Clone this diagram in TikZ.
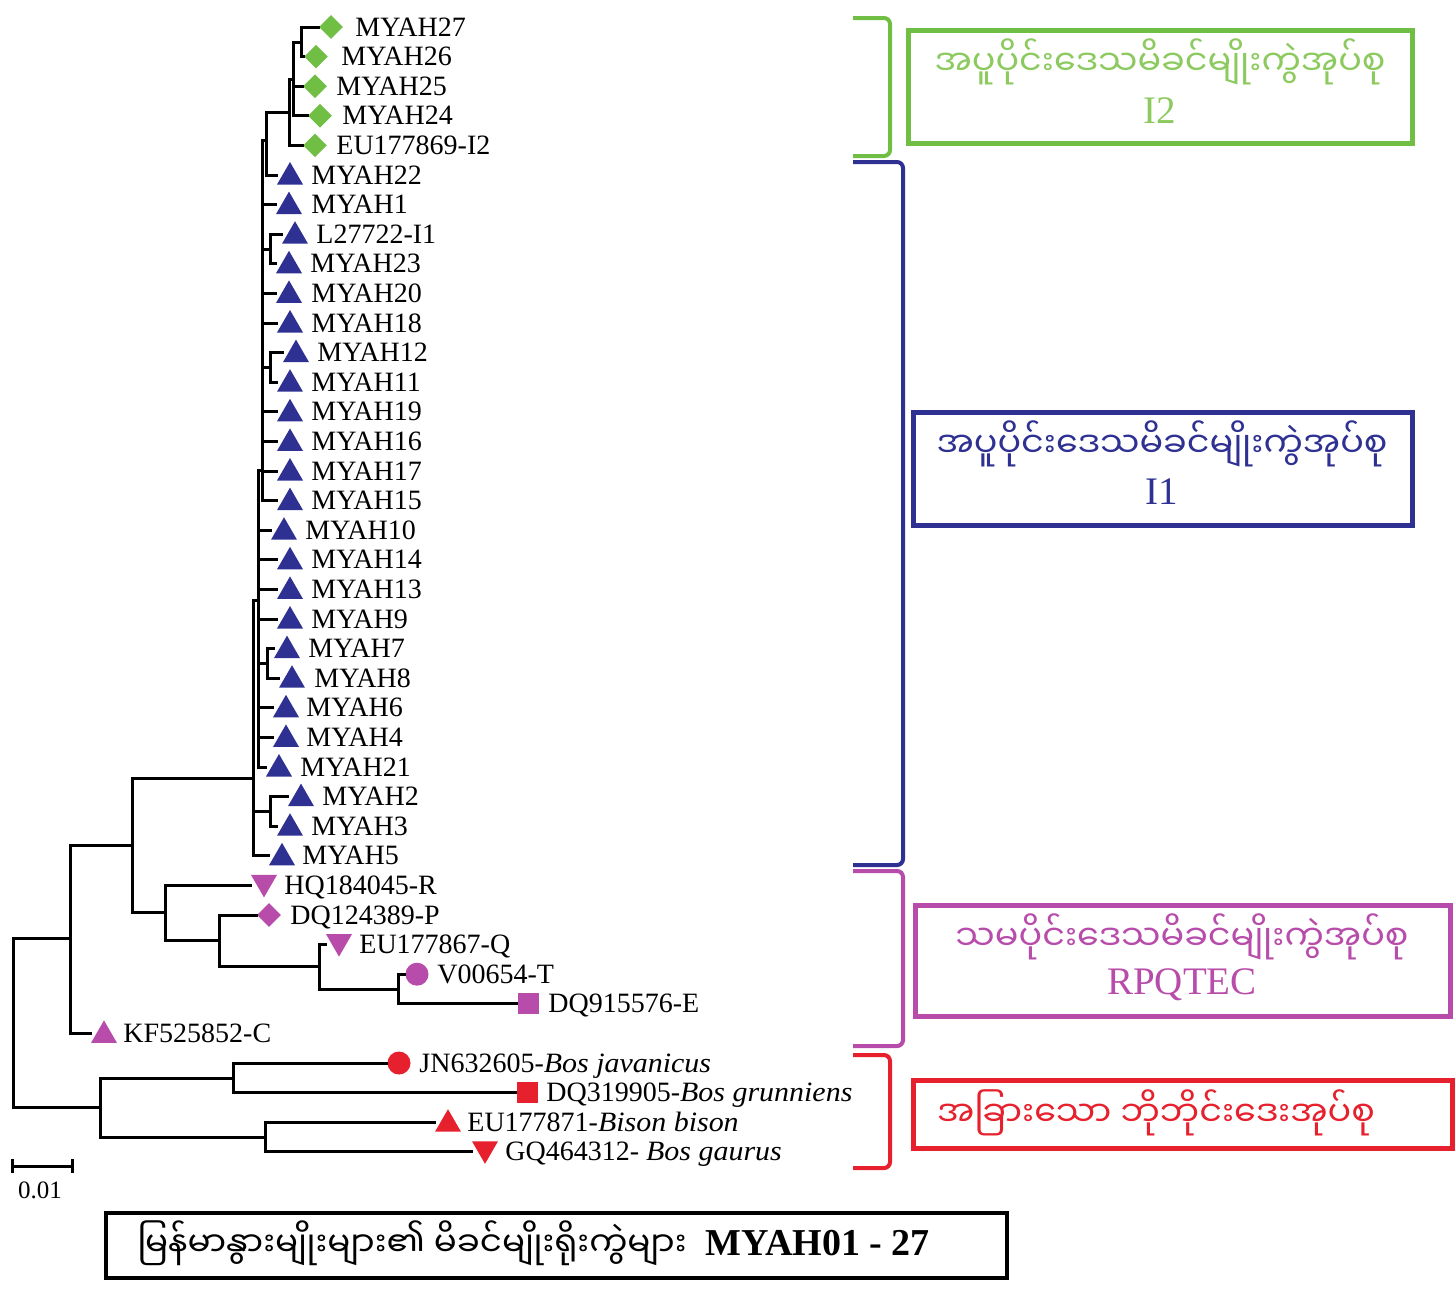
\documentclass[tikz,border=0pt]{standalone}
\usepackage{fontspec}
\setmainfont{Liberation Serif}
\newfontfamily\mmfont[Script=Myanmar]{Noto Sans Myanmar UI}
\usetikzlibrary{shapes.geometric}
\definecolor{gcol}{RGB}{112,191,68}
\definecolor{gtxt}{RGB}{140,202,95}
\definecolor{bcol}{RGB}{46,49,146}
\definecolor{mcol}{RGB}{183,76,171}
\definecolor{rcol}{RGB}{230,32,45}
\newcommand\tleaf[7]{%
  \coordinate (#1) at (#2,#3);
  \node[#4] (#1s) at (#5,#3) {};
  \node[lbl] (#1t) at (#6,#3+9) {#7};
}
\newcommand\spn[1]{\scalebox{1.07}[1]{\textit{#1}}}
\tikzset{
  br/.style={line width=1.5pt, line join=miter},
  lbl/.style={anchor=base west, inner sep=0pt, font=\fontsize{14}{16}\selectfont},
  sym/.style={inner sep=0pt, draw=none},
  gdia/.style={sym, diamond, fill=gcol, minimum width=12pt, minimum height=12pt},
  mdia/.style={sym, diamond, fill=mcol, minimum width=12pt, minimum height=12pt},
  btri/.style={sym, regular polygon, regular polygon sides=3, fill=bcol, minimum size=15pt, yshift=-1pt},
  mtri/.style={sym, regular polygon, regular polygon sides=3, fill=mcol, minimum size=15pt, yshift=-1pt},
  rtri/.style={sym, regular polygon, regular polygon sides=3, fill=rcol, minimum size=15pt, yshift=-1pt},
  mitri/.style={sym, regular polygon, regular polygon sides=3, shape border rotate=180, fill=mcol, minimum size=15pt, yshift=1.5pt},
  ritri/.style={sym, regular polygon, regular polygon sides=3, shape border rotate=180, fill=rcol, minimum size=15pt, yshift=1.5pt},
  mcirc/.style={sym, circle, fill=mcol, minimum size=11.5pt},
  rcirc/.style={sym, circle, fill=rcol, minimum size=11.5pt},
  msq/.style={sym, rectangle, fill=mcol, minimum size=10.5pt},
  rsq/.style={sym, rectangle, fill=rcol, minimum size=10.5pt},
  mm/.style={inner sep=0pt, font=\mmfont\fontsize{17.5}{21}\selectfont},
  boxlbl/.style={inner sep=0pt, font=\fontsize{19.5}{22}\selectfont},
  grp/.style={line width=2.5pt, inner sep=0pt},
  brk/.style={line width=2pt, rounded corners=3pt},
}
\begin{document}
\begin{tikzpicture}[x=0.5pt,y=-0.5pt]
\useasboundingbox (0,0) rectangle (1455,1292);
% leaves
\tleaf{l27}{320}{27}{gdia}{331}{355}{MYAH27}
\tleaf{l26}{305}{56.6}{gdia}{316}{341}{MYAH26}
\tleaf{l25}{304}{86.2}{gdia}{315}{336}{MYAH25}
\tleaf{l24}{309}{115.8}{gdia}{320}{342}{MYAH24}
\tleaf{li2}{304}{145.4}{gdia}{315}{336}{EU177869-I2}
\tleaf{l22}{278}{175}{btri}{290}{311}{MYAH22}
\tleaf{l1}{277}{204.6}{btri}{289}{311}{MYAH1}
\tleaf{li1}{283}{234.2}{btri}{295}{316}{L27722-I1}
\tleaf{l23}{277}{263.8}{btri}{289}{310}{MYAH23}
\tleaf{l20}{277}{293.4}{btri}{289}{311}{MYAH20}
\tleaf{l18}{278}{323}{btri}{290}{311}{MYAH18}
\tleaf{l12}{284}{352.6}{btri}{296}{317}{MYAH12}
\tleaf{l11}{278}{382.2}{btri}{290}{311}{MYAH11}
\tleaf{l19}{278}{411.8}{btri}{290}{311}{MYAH19}
\tleaf{l16}{278}{441.4}{btri}{290}{311}{MYAH16}
\tleaf{l17}{278}{471}{btri}{290}{311}{MYAH17}
\tleaf{l15}{278}{500.6}{btri}{290}{311}{MYAH15}
\tleaf{l10}{272}{530.2}{btri}{284}{305}{MYAH10}
\tleaf{l14}{278}{559.8}{btri}{290}{311}{MYAH14}
\tleaf{l13}{278}{589.4}{btri}{290}{311}{MYAH13}
\tleaf{l9}{278}{619}{btri}{290}{311}{MYAH9}
\tleaf{l7}{275}{648.6}{btri}{287}{308}{MYAH7}
\tleaf{l8}{280}{678.2}{btri}{292}{314}{MYAH8}
\tleaf{l6}{274}{707.8}{btri}{286}{306}{MYAH6}
\tleaf{l4}{274}{737.4}{btri}{286}{306}{MYAH4}
\tleaf{l21}{267}{767}{btri}{279}{300}{MYAH21}
\tleaf{l2}{289}{796.6}{btri}{301}{322}{MYAH2}
\tleaf{l3}{278}{826.2}{btri}{290}{311}{MYAH3}
\tleaf{l5}{270}{855.8}{btri}{282}{302}{MYAH5}
\tleaf{lr}{252}{885.4}{mitri}{264}{284}{HQ184045-R}
\tleaf{lp}{258}{915}{mdia}{269}{290}{DQ124389-P}
\tleaf{lq}{327}{944.6}{mitri}{339}{359}{EU177867-Q}
\tleaf{lt}{406}{974.2}{mcirc}{417}{437}{V00654-T}
\tleaf{le}{518}{1003.8}{msq}{528}{548}{DQ915576-E}
\tleaf{lc}{92}{1033.4}{mtri}{104}{123}{KF525852-C}
\tleaf{ljv}{388}{1063}{rcirc}{399}{419}{JN632605-\spn{Bos javanicus}}
\tleaf{lgr}{517}{1092.6}{rsq}{527}{546}{DQ319905-\spn{Bos grunniens}}
\tleaf{lbb}{436}{1122.2}{rtri}{448}{467}{EU177871-\spn{Bison bison}}
\tleaf{lga}{473}{1151.8}{ritri}{485}{505}{GQ464312- \spn{Bos gaurus}}
% internal nodes
\coordinate (root) at (13,1022);
\coordinate (n70) at (70,938);
\coordinate (n100) at (100,1107);
\coordinate (n132) at (132,845);
\coordinate (n165) at (165,912);
\coordinate (n219) at (219,940);
\coordinate (n319) at (319,966);
\coordinate (n398) at (398,989);
\coordinate (n233) at (233,1078);
\coordinate (n265) at (265,1137);
\coordinate (nA) at (253,778);
\coordinate (nE) at (258,600);
\coordinate (nD) at (262,470);
\coordinate (nC) at (266,140);
\coordinate (nI2) at (289,112);
\coordinate (nB) at (293,79);
\coordinate (n301) at (301,42);
\coordinate (nL) at (270,249);
\coordinate (nM) at (270,367);
\coordinate (nN) at (267,663);
\coordinate (nO) at (270,811);
% branches
\draw[br] (root) |- (n70);  \draw[br] (root) |- (n100);
\draw[br] (n70) |- (n132);  \draw[br] (n70) |- (lc);
\draw[br] (n132) |- (nA);   \draw[br] (n132) |- (n165);
\draw[br] (n165) |- (lr);   \draw[br] (n165) |- (n219);
\draw[br] (n219) |- (lp);   \draw[br] (n219) |- (n319);
\draw[br] (n319) |- (lq);   \draw[br] (n319) |- (n398);
\draw[br] (n398) |- (lt);   \draw[br] (n398) |- (le);
\draw[br] (n100) |- (n233); \draw[br] (n100) |- (n265);
\draw[br] (n233) |- (ljv);  \draw[br] (n233) |- (lgr);
\draw[br] (n265) |- (lbb);  \draw[br] (n265) |- (lga);
\draw[br] (nA) |- (nE); \draw[br] (nA) |- (nO); \draw[br] (nA) |- (l5);
\foreach \c in {nD,l10,l14,l13,l9,nN,l6,l4,l21} \draw[br] (nE) |- (\c);
\foreach \c in {nC,l1,nL,l20,l18,nM,l19,l16,l17,l15} \draw[br] (nD) |- (\c);
\draw[br] (nC) |- (nI2); \draw[br] (nC) |- (l22);
\draw[br] (nI2) |- (nB); \draw[br] (nI2) |- (li2);
\foreach \c in {n301,l25,l24} \draw[br] (nB) |- (\c);
\draw[br] (n301) |- (l27); \draw[br] (n301) |- (l26);
\draw[br] (nL) |- (li1); \draw[br] (nL) |- (l23);
\draw[br] (nM) |- (l12); \draw[br] (nM) |- (l11);
\draw[br] (nN) |- (l7); \draw[br] (nN) |- (l8);
\draw[br] (nO) |- (l2); \draw[br] (nO) |- (l3);
% scale bar
\coordinate (sbl) at (12,1166);
\coordinate (sbr) at (72,1166);
\draw[br] (sbl) -- (sbr);
\draw[br] ([yshift=3.5pt]sbl) -- ([yshift=-3.5pt]sbl);
\draw[br] ([yshift=3.5pt]sbr) -- ([yshift=-3.5pt]sbr);
\node[inner sep=0pt, font=\fontsize{12.5}{14}\selectfont] (sbt) at (40,1190) {0.01};
% brackets
\draw[brk, gcol] (853,18) -- (890,18) -- (890,156) -- (853,156);
\draw[brk, bcol] (853,162) -- (903,162) -- (903,865) -- (853,865);
\draw[brk, mcol] (853,871) -- (903,871) -- (903,1046) -- (853,1046);
\draw[brk, rcol] (853,1055) -- (890,1055) -- (890,1168) -- (853,1168);
% group boxes
\node[grp, draw=gcol, minimum width=252pt, minimum height=56.5pt] (gbox) at (1160,86.5) {};
\node[mm, text=gtxt] (gbox1) at (1160,62) {အပူပိုင်းဒေသမိခင်မျိုးကွဲအုပ်စု};
\node[boxlbl, text=gtxt] (gbox2) at (1160,111) {I2};
\node[grp, draw=bcol, minimum width=249.5pt, minimum height=56.5pt] (bbox) at (1162.5,468.5) {};
\node[mm, text=bcol] (bbox1) at (1162,444) {အပူပိုင်းဒေသမိခင်မျိုးကွဲအုပ်စု};
\node[boxlbl, text=bcol] (bbox2) at (1162,492) {I1};
\node[grp, draw=mcol, minimum width=267.5pt, minimum height=55.5pt] (mbox) at (1182.5,960.5) {};
\node[mm, text=mcol] (mbox1) at (1182,937) {သမပိုင်းဒေသမိခင်မျိုးကွဲအုပ်စု};
\node[boxlbl, text=mcol] (mbox2) at (1182,985) {RPQTEC};
\node[grp, draw=rcol, minimum width=269.5pt, minimum height=34pt] (rbox) at (1182.5,1114) {};
\node[mm, text=rcol] (rbox1) at (1156,1113) {အခြားသော ဘိုဘိုင်းဒေးအုပ်စု};
% bottom title box
\node[draw=black, line width=2pt, inner sep=0pt, minimum width=450.5pt, minimum height=32.5pt] (tbox) at (556.5,1245.5) {};
\node[inner sep=0pt, anchor=west, font=\mmfont\fontsize{17}{20}\selectfont] (tbox1) at (137,1243) {မြန်မာနွားမျိုးများ၏ မိခင်မျိုးရိုးကွဲများ};
\node[inner sep=0pt, anchor=west, font=\bfseries\fontsize{19}{22}\selectfont] (tbox2) at (705,1243) {MYAH01 - 27};
\end{tikzpicture}
\end{document}
